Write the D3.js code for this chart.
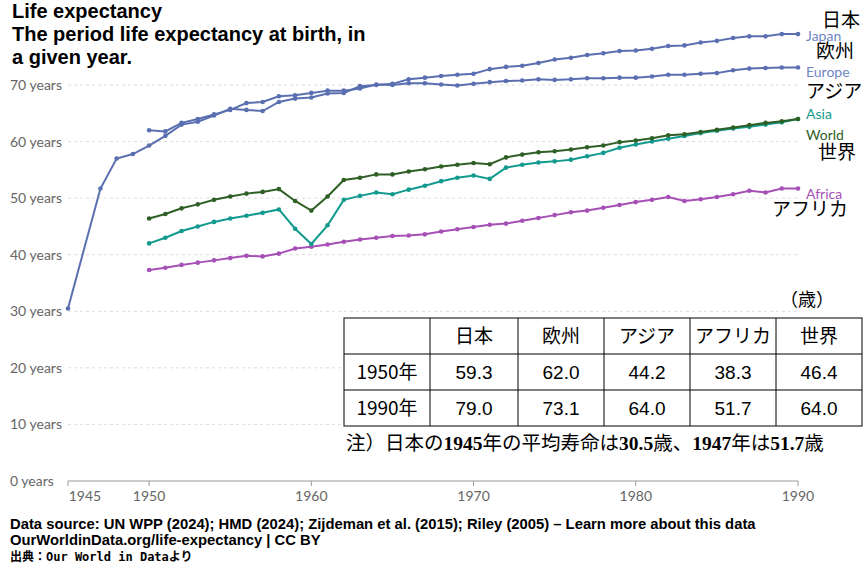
<!DOCTYPE html>
<html><head><meta charset="utf-8">
<script src="https://cdn.jsdelivr.net/npm/d3@7"></script>
<style>body{margin:0;background:#fff}</style>
</head><body><svg id="c" width="863" height="567"></svg>
<script>
const japanYears=[1945,1947,1948,1949,1950,1951,1952,1953,1954,1955,1956,1957,1958,1959,1960,1961,1962,1963,1964,1965,1966,1967,1968,1969,1970,1971,1972,1973,1974,1975,1976,1977,1978,1979,1980,1981,1982,1983,1984,1985,1986,1987,1988,1989,1990];
const japan=[30.5,51.7,57.0,57.8,59.3,61.0,63.0,63.5,64.6,65.8,65.6,65.4,67.0,67.6,67.8,68.5,68.6,69.8,70.0,70.2,71.0,71.3,71.6,71.8,72.0,72.8,73.2,73.4,73.9,74.5,74.8,75.3,75.6,76.0,76.1,76.4,76.9,77.0,77.5,77.8,78.3,78.6,78.6,79.0,79.0];
const years=d3.range(1950,1991);
const europe=[62.0,61.8,63.3,64.0,64.8,65.6,66.8,67.0,68.0,68.2,68.6,69.0,69.0,69.4,70.1,70.0,70.3,70.3,70.1,69.9,70.2,70.5,70.7,70.8,71.0,70.9,71.0,71.2,71.2,71.3,71.3,71.5,71.8,71.8,72.0,72.1,72.6,72.9,73.0,73.1,73.1];
const world=[46.4,47.2,48.2,48.9,49.7,50.3,50.8,51.1,51.6,49.5,47.8,50.3,53.2,53.6,54.2,54.2,54.7,55.1,55.6,55.9,56.2,56.0,57.2,57.7,58.1,58.3,58.6,59.0,59.3,59.9,60.2,60.6,61.1,61.3,61.7,62.1,62.5,62.9,63.3,63.6,64.0];
const asia=[42.0,43.0,44.2,45.0,45.8,46.4,46.9,47.4,48.0,44.6,41.9,45.2,49.7,50.4,51.0,50.7,51.5,52.2,53.0,53.6,54.0,53.4,55.4,55.9,56.3,56.5,56.8,57.4,58.0,58.9,59.5,60.0,60.5,61.0,61.5,61.9,62.3,62.6,63.0,63.4,64.0];
const africa=[37.3,37.7,38.2,38.6,39.0,39.4,39.8,39.7,40.2,41.1,41.4,41.8,42.3,42.7,43.0,43.3,43.4,43.6,44.1,44.5,44.9,45.3,45.5,46.0,46.5,47.0,47.5,47.8,48.3,48.8,49.3,49.7,50.2,49.5,49.8,50.2,50.7,51.3,51.0,51.7,51.7];
const yTicks=[0,10,20,30,40,50,60,70];
const xTicks=[1945,1950,1960,1970,1980,1990];
const tableHead=["","日本","欧州","アジア","アフリカ","世界"];
const tableRows=[["1950年","59.3","62.0","44.2","38.3","46.4"],["1990年","79.0","73.1","64.0","51.7","64.0"]];

const svg=d3.select("#c");
const x=d3.scaleLinear().domain([1945,1990]).range([68,798]);
const y=d3.scaleLinear().domain([0,70]).range([481,85]);
const sans="Lato, 'Open Sans', sans-serif";
yTicks.forEach(t=>{
  if(t>0) svg.append("line").attr("x1",68).attr("x2",798).attr("y1",y(t)).attr("y2",y(t)).attr("stroke","#ddd").attr("stroke-dasharray","3,3");
  svg.append("text").attr("x",10).attr("y",y(t)+5).attr("font-family",sans).attr("font-size",14).attr("fill","#666").text(t+" years");
});
svg.append("line").attr("x1",68).attr("x2",798).attr("y1",481).attr("y2",481).attr("stroke","#999");
xTicks.forEach(t=>{
  svg.append("line").attr("x1",x(t)).attr("x2",x(t)).attr("y1",481).attr("y2",486).attr("stroke","#999");
  svg.append("text").attr("x",x(t)+(t===1945?17:0)).attr("y",501).attr("text-anchor","middle").attr("font-family",sans).attr("font-size",14).attr("fill","#666").text(t);
});
const line=d3.line().x(d=>x(d[0])).y(d=>y(d[1]));
function series(xs,vs,col){
  const d=xs.map((a,i)=>[a,vs[i]]);
  svg.append("path").attr("d",line(d)).attr("fill","none").attr("stroke",col).attr("stroke-width",2);
  svg.selectAll(null).data(d).enter().append("circle").attr("cx",p=>x(p[0])).attr("cy",p=>y(p[1])).attr("r",2.3).attr("fill",col);
}
const cJ="#5a6fb0",cA="#129a8e",cW="#2e5f25",cF="#a64fb5";
series(years,africa,cF);series(years,asia,cA);series(years,world,cW);series(years,europe,cJ);series(japanYears,japan,cJ);
const lab=[["Japan",36,"#6f86c2"],["Europe",72,"#6f86c2"],["Asia",114,cA],["World",135,cW],["Africa",194,cF]];
lab.forEach(l=>svg.append("text").attr("x",806).attr("y",l[1]+5).attr("font-family",sans).attr("font-size",14).attr("fill",l[2]).text(l[0]));
const jp="'Noto Sans CJK JP', sans-serif";
[["日本",822,27],["欧州",816,58],["アジア",806,98],["世界",818,159],["アフリカ",772,216]].forEach(l=>
  svg.append("text").attr("x",l[1]).attr("y",l[2]).attr("font-family",jp).attr("font-size",19).attr("fill","#000").text(l[0]));
["Life expectancy","The period life expectancy at birth, in","a given year."].forEach((s,i)=>
  svg.append("text").attr("x",12).attr("y",18+i*23).attr("font-family","'Liberation Sans', Arial").attr("font-weight","bold").attr("font-size",20).text(s));
const colX=[344,430,518,604,690,776,862], rowY=[318,354,390,426];
svg.append("rect").attr("x",344).attr("y",318).attr("width",518).attr("height",108).attr("fill","#fff").attr("stroke","#000");
colX.slice(1,-1).forEach(c=>svg.append("line").attr("x1",c).attr("x2",c).attr("y1",318).attr("y2",426).attr("stroke","#000"));
rowY.slice(1,-1).forEach(r=>svg.append("line").attr("x1",344).attr("x2",862).attr("y1",r).attr("y2",r).attr("stroke","#000"));
[tableHead,...tableRows].forEach((row,ri)=>row.forEach((c,ci)=>
  svg.append("text").attr("x",(colX[ci]+colX[ci+1])/2).attr("y",rowY[ri]+25).attr("text-anchor","middle").attr("font-family",ri===0||ci===0?jp:"'Liberation Sans', Arial").attr("font-size",19).text(c)));
svg.append("text").attr("x",780).attr("y",306).attr("font-family",jp).attr("font-size",18).text("（歳）");
const note=svg.append("text").attr("x",346).attr("y",450).attr("font-family","'Liberation Serif', 'Noto Sans CJK JP'").attr("font-size",19.5);
[["注）日本の",0],["1945",1],["年の平均寿命は",0],["30.5",1],["歳、",0],["1947",1],["年は",0],["51.7",1],["歳",0]].forEach(p=>{
  const t=note.append("tspan").text(p[0]);
  if(p[1]) t.attr("font-weight","bold"); else t.attr("font-family",jp);
});
["Data source: UN WPP (2024); HMD (2024); Zijdeman et al. (2015); Riley (2005) – Learn more about this data","OurWorldinData.org/life-expectancy | CC BY"].forEach((s,i)=>
  svg.append("text").attr("x",10).attr("y",529+i*16).attr("font-family","'Liberation Sans', Arial").attr("font-weight","bold").attr("font-size",14.8).text(s));
svg.append("text").attr("x",10).attr("y",561).attr("font-family","'DejaVu Sans Mono', 'Noto Sans CJK JP'").attr("font-weight","bold").attr("font-size",12).text("出典：Our World in Dataより");
</script></body></html>
